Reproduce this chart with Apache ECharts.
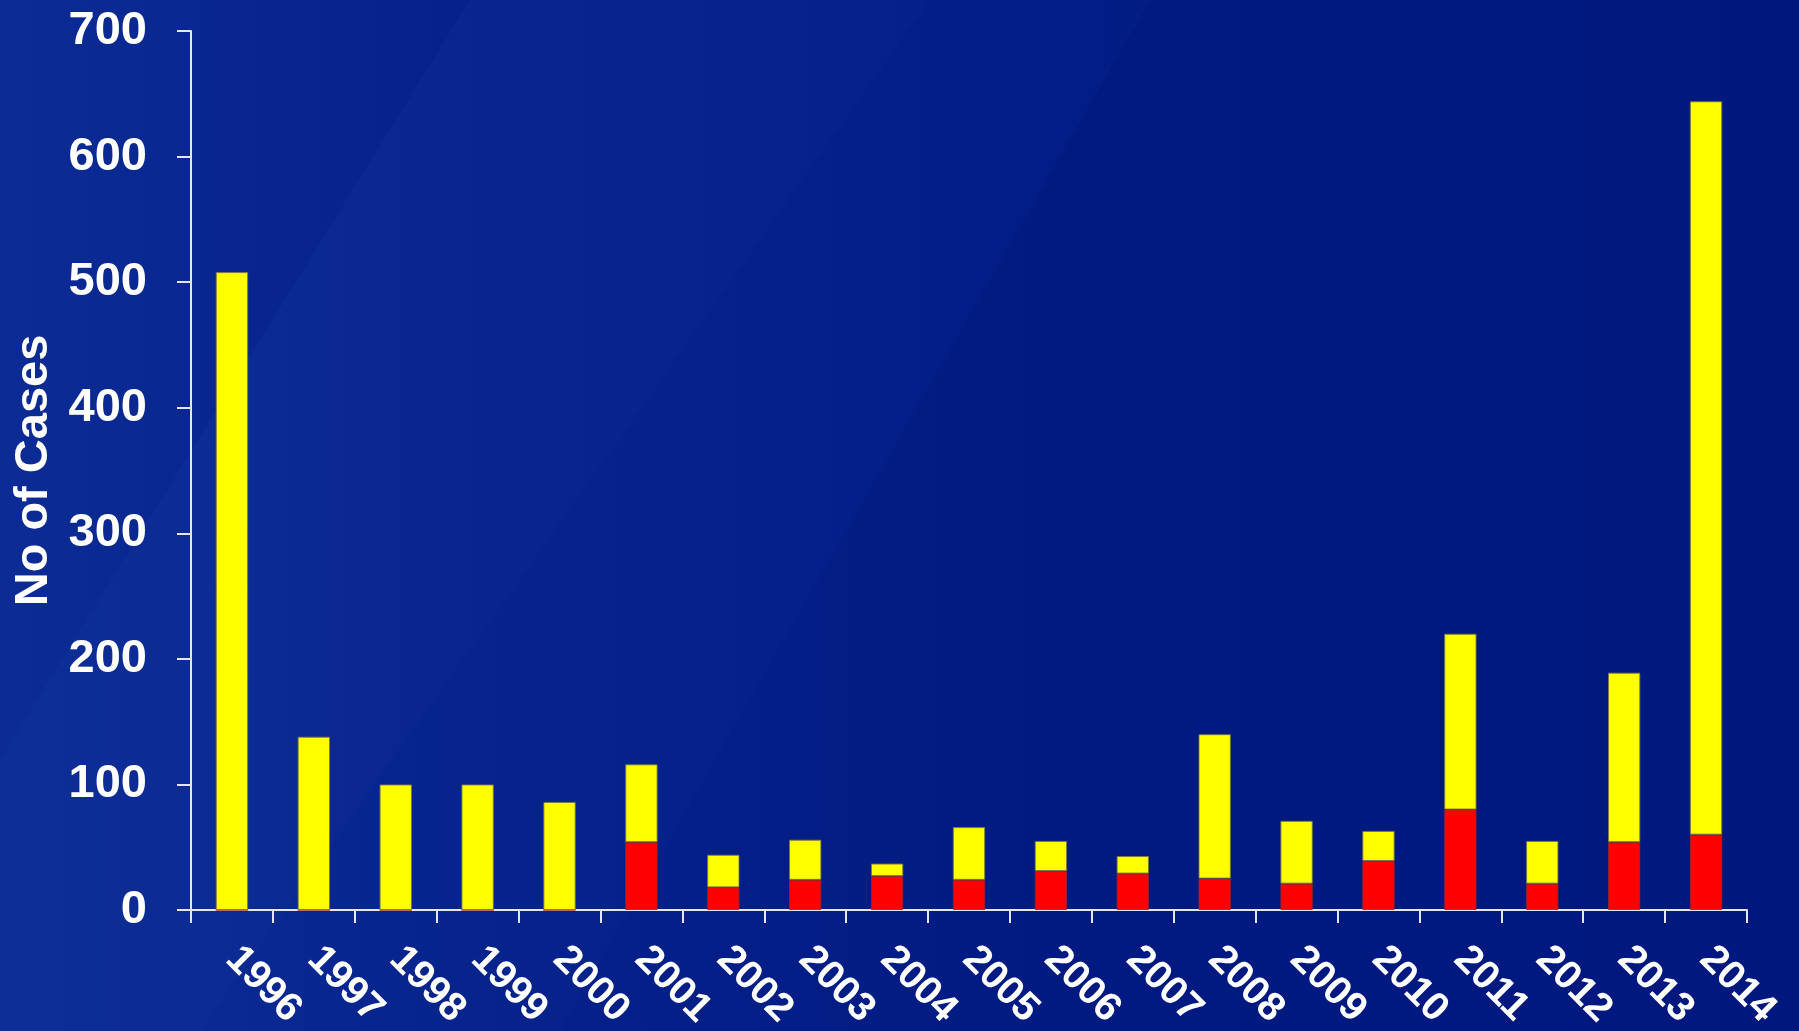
<!DOCTYPE html>
<html>
<head>
<meta charset="utf-8">
<script src="https://cdn.jsdelivr.net/npm/echarts@6/dist/echarts.min.js"></script>
<style>
html,body{margin:0;padding:0;background:#001880;}
#c{width:1799px;height:1031px;}
</style>
</head>
<body>
<div id="c"></div>
<script>
// ---- data ----
const years = ['1996','1997','1998','1999','2000','2001','2002','2003','2004','2005','2006','2007','2008','2009','2010','2011','2012','2013','2014'];
// red (lower) segment
const redValues    = [0, 0, 0, 0, 0, 54, 18, 24, 27, 24, 31, 29, 25, 21, 39, 80, 21, 54, 60];
// yellow (upper) segment
const yellowValues = [508, 138, 100, 100, 86, 62, 26, 32, 10, 42, 24, 14, 115, 50, 24, 140, 34, 135, 584];
const yTicks = [0, 100, 200, 300, 400, 500, 600, 700];
const yAxisTitle = 'No of Cases';

const chart = echarts.init(document.getElementById('c'), null, {renderer: 'canvas'});
const axisColor = '#e4e6f2';
const fontFam = '"Liberation Sans", Arial, Helvetica, sans-serif';

chart.setOption({
  animation: false,
  backgroundColor: {
    type: 'linear', x: 0, y: 0, x2: 1, y2: 0,
    colorStops: [
      {offset: 0, color: '#0c2b94'},
      {offset: 0.25, color: '#06228a'},
      {offset: 0.6, color: '#001a82'},
      {offset: 1, color: '#00187e'}
    ]
  },
  graphic: [
    {type: 'polygon', silent: true, z: -10,
     shape: {points: [[0, 1031], [0, 760], [470, 0], [930, 0], [200, 1031]]},
     style: {fill: 'rgba(40,80,190,0.10)'}},
    {type: 'polygon', silent: true, z: -10,
     shape: {points: [[200, 1031], [930, 0], [1150, 0], [560, 1031]]},
     style: {fill: 'rgba(30,70,180,0.07)'}}
  ],
  grid: {left: 191, right: 52, top: 31, bottom: 121, containLabel: false, outerBoundsMode: 'none'},
  xAxis: {
    type: 'category',
    data: years,
    boundaryGap: true,
    axisLine: {show: true, lineStyle: {color: axisColor, width: 2}},
    axisTick: {show: true, length: 13, alignWithLabel: false, lineStyle: {color: axisColor, width: 2}},
    axisLabel: {
      interval: 0,
      rotate: -45,
      align: 'left',
      verticalAlign: 'middle',
      padding: [0, 0, 22, 0],
      margin: 43,
      color: '#ffffff',
      fontFamily: fontFam,
      fontWeight: 'bold',
      fontSize: 40
    },
    splitLine: {show: false}
  },
  yAxis: {
    type: 'value',
    min: yTicks[0],
    max: yTicks[yTicks.length - 1],
    interval: 100,
    name: yAxisTitle,
    nameLocation: 'middle',
    nameGap: 133,
    nameRotate: 90,
    nameTextStyle: {color: '#ffffff', fontFamily: fontFam, fontWeight: 'bold', fontSize: 47},
    axisLine: {show: true, lineStyle: {color: axisColor, width: 2}},
    axisTick: {show: true, length: 14, lineStyle: {color: axisColor, width: 2}},
    axisLabel: {color: '#ffffff', fontFamily: fontFam, fontWeight: 'bold', fontSize: 47, margin: 44},
    splitLine: {show: false}
  },
  series: [
    {
      name: 'red', type: 'bar', stack: 'cases', data: redValues,
      barWidth: '39.5%',
      itemStyle: {color: '#ff0000', borderColor: 'rgba(150,40,40,0.8)', borderWidth: 1}
    },
    {
      name: 'yellow', type: 'bar', stack: 'cases', data: yellowValues,
      barWidth: '39.5%',
      itemStyle: {color: '#ffff00', borderColor: 'rgba(120,120,70,0.9)', borderWidth: 1}
    }
  ]
});
</script>
</body>
</html>
